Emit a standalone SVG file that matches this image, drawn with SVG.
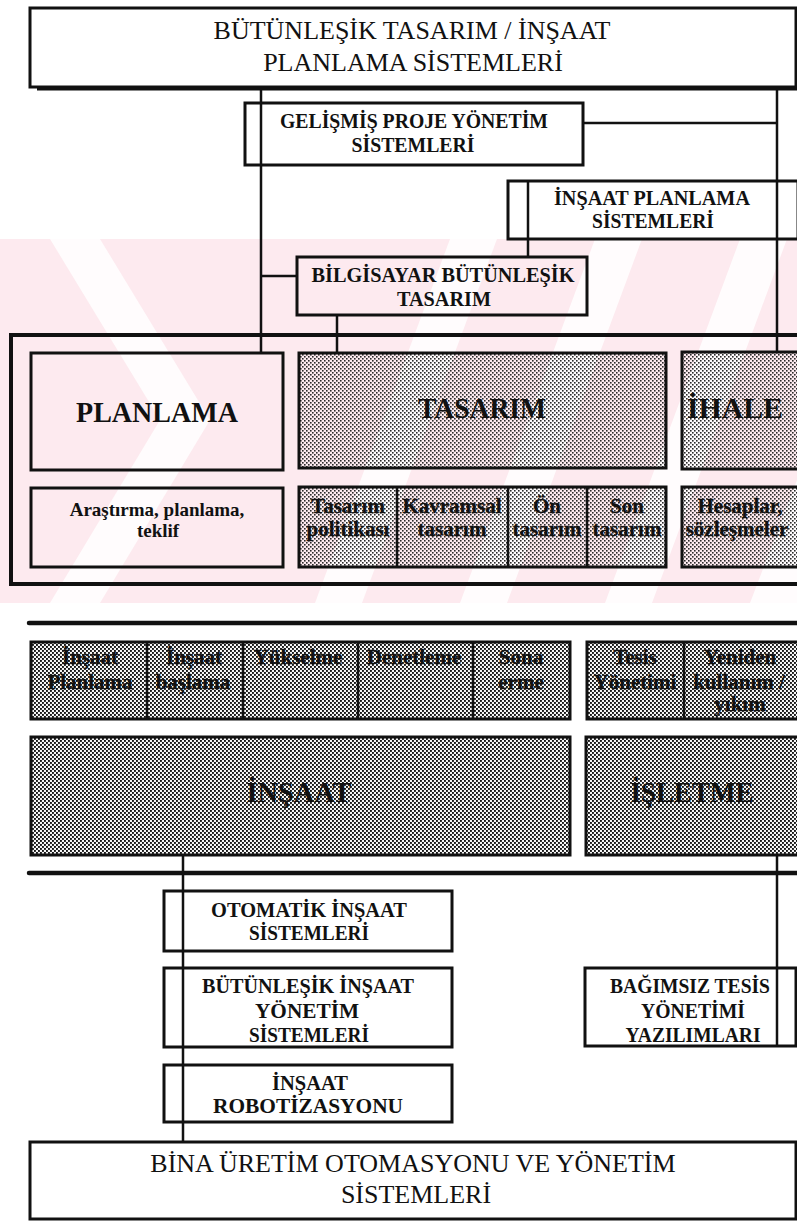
<svg xmlns="http://www.w3.org/2000/svg" width="797" height="1222" viewBox="0 0 797 1222">
<defs>
<style>
.box{fill:none;stroke:#111;stroke-width:3}
.shL{fill:url(#dotL);stroke:#111;stroke-width:3}
.shD{fill:url(#dotD);stroke:#111;stroke-width:3}
.ln{stroke:#111;stroke-width:2.5;fill:none}
.thick{stroke:#111;stroke-width:4.5;fill:none;stroke-linecap:round}
text{font-family:"Liberation Serif","Times New Roman",serif;fill:#111;text-anchor:middle}
.t26{font-size:26px}
.b22{font-size:22px;font-weight:bold}
.b29{font-size:29px;font-weight:bold}
.c21{font-size:21px;font-weight:bold;fill:#111;stroke:#111;stroke-width:0.3}
.s19{font-size:19px;font-weight:bold}
</style>
<pattern id="dotL" width="4" height="4" patternUnits="userSpaceOnUse">
<rect x="0" y="0" width="1.6" height="1.6" fill="#2a2a2a"/>
<rect x="2" y="2" width="1.6" height="1.6" fill="#2a2a2a"/>
</pattern>
<pattern id="dotD" width="4" height="4" patternUnits="userSpaceOnUse">
<rect x="0" y="0" width="4" height="4" fill="#f6f6f6"/>
<rect x="0" y="0" width="1.9" height="1.9" fill="#151515"/>
<rect x="2" y="2" width="1.9" height="1.9" fill="#151515"/>
</pattern>
</defs>

<g id="watermark">
<rect x="0" y="239" width="797" height="364" fill="#fdeaef"/>
<polygon points="50,239 100,239 210,420 100,603 50,603 160,420" fill="#ffffff" opacity="0.85"/>
<polygon points="315,603 362,603 497,239 450,239" fill="#ffffff" opacity="0.85"/>
<polygon points="460,603 507,603 642,239 595,239" fill="#ffffff" opacity="0.85"/>
<polygon points="605,603 652,603 787,239 740,239" fill="#ffffff" opacity="0.85"/>
<polygon points="750,603 797,603 797,480" fill="#ffffff" opacity="0.85"/>
</g>

<g id="connectors">
<line class="ln" x1="261" y1="87" x2="261" y2="353"/>
<line class="ln" x1="777" y1="87" x2="777" y2="352"/>
<line class="ln" x1="583" y1="123" x2="777" y2="123"/>
<line class="ln" x1="528" y1="180" x2="528" y2="257"/>
<line class="ln" x1="261" y1="276" x2="297" y2="276"/>
<line class="ln" x1="337" y1="315" x2="337" y2="353"/>
<line class="ln" x1="183" y1="855" x2="183" y2="1142"/>
<line class="ln" x1="777" y1="855" x2="777" y2="1046"/>
<line class="thick" x1="29" y1="623" x2="800" y2="623"/>
<line class="thick" x1="29" y1="873" x2="800" y2="873"/>
</g>

<g id="n-top">
<rect class="box" x="30" y="8" width="766" height="79"/>
<line stroke="#111" stroke-width="3" x1="37" y1="89" x2="797" y2="89"/>
<text class="t26" x="412" y="39">BÜTÜNLEŞİK TASARIM / İNŞAAT</text>
<text class="t26" x="413" y="71">PLANLAMA SİSTEMLERİ</text>
</g>

<g id="n-gelismis">
<rect class="box" x="245" y="103" width="338" height="62"/>
<text class="b22" x="414" y="128" textLength="268" lengthAdjust="spacingAndGlyphs">GELİŞMİŞ PROJE YÖNETİM</text>
<text class="b22" x="413" y="152" textLength="123" lengthAdjust="spacingAndGlyphs">SİSTEMLERİ</text>
</g>

<g id="n-insaatplan">
<rect class="box" x="508" y="181" width="290" height="58"/>
<text class="b22" x="652" y="205" textLength="196" lengthAdjust="spacingAndGlyphs">İNŞAAT PLANLAMA</text>
<text class="b22" x="653" y="228" textLength="122" lengthAdjust="spacingAndGlyphs">SİSTEMLERİ</text>
</g>

<g id="n-bilgisayar">
<rect class="box" x="297" y="257" width="290" height="58"/>
<text class="b22" x="443" y="282" textLength="263" lengthAdjust="spacingAndGlyphs">BİLGİSAYAR BÜTÜNLEŞİK</text>
<text class="b22" x="444" y="306" textLength="94" lengthAdjust="spacingAndGlyphs">TASARIM</text>
</g>

<g id="n-phase1">
<path d="M800,335 H11 V584 H800" fill="none" stroke="#111" stroke-width="4"/>
</g>

<g id="n-planlama">
<rect class="box" x="31" y="353" width="252" height="117"/>
<text class="b29" x="157" y="422" textLength="162" lengthAdjust="spacingAndGlyphs">PLANLAMA</text>
</g>

<g id="n-arastirma">
<rect class="box" x="31" y="488" width="252" height="79"/>
<text class="s19" x="157" y="516">Araştırma, planlama,</text>
<text class="s19" x="158" y="537">teklif</text>
</g>

<g id="n-tasarim">
<rect class="shL" x="299" y="353" width="367" height="115"/>
<text class="b29" x="482" y="418" textLength="128" lengthAdjust="spacingAndGlyphs">TASARIM</text>
</g>

<g id="n-ihale">
<rect class="shL" x="682" y="352" width="118" height="117"/>
<text class="b29" x="735" y="418" textLength="96" lengthAdjust="spacingAndGlyphs">İHALE</text>
</g>

<g id="n-tasarim-cells">
<rect class="shL" x="299" y="487" width="367" height="80"/>
<line class="ln" x1="397" y1="487" x2="397" y2="567"/>
<line class="ln" x1="508" y1="487" x2="508" y2="567"/>
<line class="ln" x1="587" y1="487" x2="587" y2="567"/>
<text class="c21" x="348" y="513">Tasarım</text>
<text class="c21" x="348" y="536">politikası</text>
<text class="c21" x="452" y="513">Kavramsal</text>
<text class="c21" x="452" y="536">tasarım</text>
<text class="c21" x="547" y="513">Ön</text>
<text class="c21" x="547" y="536">tasarım</text>
<text class="c21" x="627" y="513">Son</text>
<text class="c21" x="627" y="536">tasarım</text>
</g>

<g id="n-hesaplar">
<rect class="shL" x="682" y="487" width="118" height="80"/>
<text class="c21" x="740" y="513">Hesaplar,</text>
<text class="c21" x="737" y="536">sözleşmeler</text>
</g>

<g id="n-insaat-cells">
<rect class="shD" x="31" y="642" width="539" height="77"/>
<line class="ln" x1="147" y1="642" x2="147" y2="719"/>
<line class="ln" x1="243" y1="642" x2="243" y2="719"/>
<line class="ln" x1="358" y1="642" x2="358" y2="719"/>
<line class="ln" x1="473" y1="642" x2="473" y2="719"/>
<text class="c21" x="90" y="664">İnşaat</text>
<text class="c21" x="90" y="689">Planlama</text>
<text class="c21" x="194" y="664">İnşaat</text>
<text class="c21" x="193" y="689">başlama</text>
<text class="c21" x="298" y="664">Yükselme</text>
<text class="c21" x="414" y="664">Denetleme</text>
<text class="c21" x="521" y="664">Sona</text>
<text class="c21" x="521" y="689">erme</text>
</g>

<g id="n-isletme-cells">
<rect class="shD" x="587" y="642" width="213" height="77"/>
<line class="ln" x1="684" y1="642" x2="684" y2="719"/>
<text class="c21" x="635" y="664">Tesis</text>
<text class="c21" x="635" y="689">Yönetimi</text>
<text class="c21" x="740" y="664">Yeniden</text>
<text class="c21" x="739" y="689">kullanım /</text>
<text class="c21" x="740" y="711">yıkım</text>
</g>

<g id="n-insaat">
<rect class="shD" x="31" y="737" width="539" height="118"/>
<text class="b29" x="299" y="802" textLength="105" lengthAdjust="spacingAndGlyphs">İNŞAAT</text>
</g>

<g id="n-isletme">
<rect class="shD" x="586" y="737" width="214" height="118"/>
<text class="b29" x="692" y="802" textLength="123" lengthAdjust="spacingAndGlyphs">İŞLETME</text>
</g>

<g id="n-otomatik">
<rect class="box" x="164" y="891" width="288" height="60"/>
<text class="b22" x="309" y="917" textLength="196" lengthAdjust="spacingAndGlyphs">OTOMATİK İNŞAAT</text>
<text class="b22" x="309" y="940" textLength="120" lengthAdjust="spacingAndGlyphs">SİSTEMLERİ</text>
</g>

<g id="n-butunlesik-insaat">
<rect class="box" x="164" y="968" width="288" height="79"/>
<text class="b22" x="308" y="993" textLength="212" lengthAdjust="spacingAndGlyphs">BÜTÜNLEŞİK İNŞAAT</text>
<text class="b22" x="307" y="1018" textLength="104" lengthAdjust="spacingAndGlyphs">YÖNETİM</text>
<text class="b22" x="309" y="1042" textLength="120" lengthAdjust="spacingAndGlyphs">SİSTEMLERİ</text>
</g>

<g id="n-robot">
<rect class="box" x="164" y="1065" width="288" height="57"/>
<text class="b22" x="310" y="1090" textLength="76" lengthAdjust="spacingAndGlyphs">İNŞAAT</text>
<text class="b22" x="308" y="1113" textLength="190" lengthAdjust="spacingAndGlyphs">ROBOTİZASYONU</text>
</g>

<g id="n-bagimsiz">
<rect class="box" x="585" y="968" width="211" height="78"/>
<text class="b22" x="690" y="993" textLength="160" lengthAdjust="spacingAndGlyphs">BAĞIMSIZ TESİS</text>
<text class="b22" x="693" y="1018" textLength="104" lengthAdjust="spacingAndGlyphs">YÖNETİMİ</text>
<text class="b22" x="693" y="1042" textLength="135" lengthAdjust="spacingAndGlyphs">YAZILIMLARI</text>
</g>

<g id="n-bina">
<rect class="box" x="30" y="1142" width="766" height="77"/>
<text class="t26" x="413" y="1172">BİNA ÜRETİM OTOMASYONU VE YÖNETİM</text>
<text class="t26" x="416" y="1203">SİSTEMLERİ</text>
</g>
</svg>
